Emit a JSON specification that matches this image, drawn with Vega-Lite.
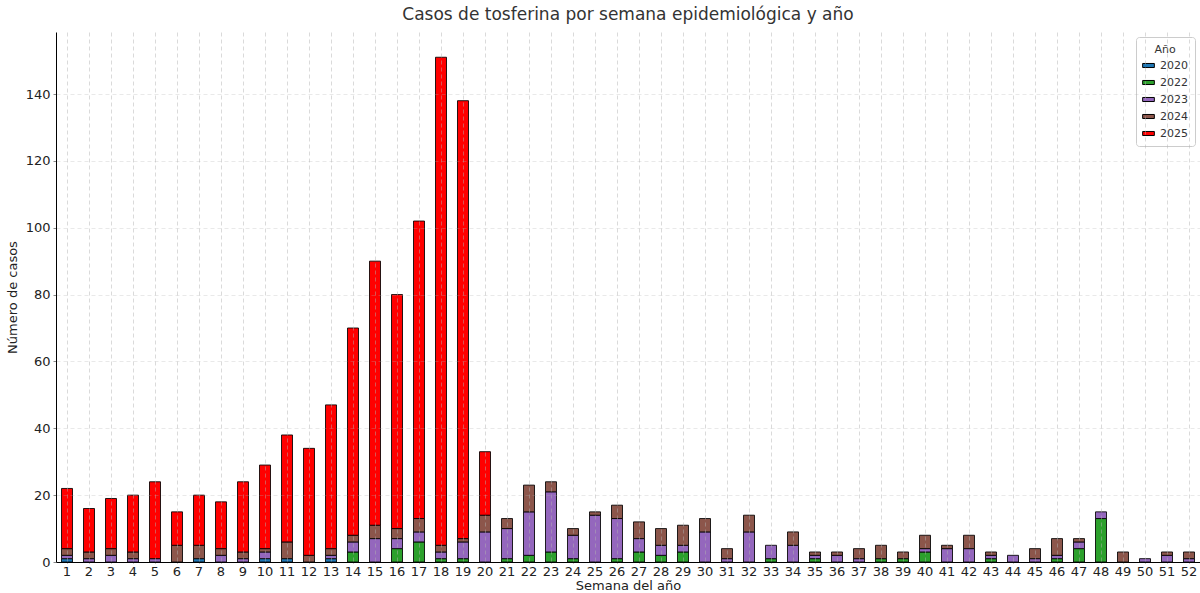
{
  "$schema": "https://vega.github.io/schema/vega-lite/v6.json",
  "width": 1144,
  "height": 530,
  "autosize": "none",
  "padding": {"left": 56, "top": 32, "right": 0, "bottom": 31},
  "background": "white",
  "config": {
    "font": "DejaVu Sans",
    "view": {"stroke": null},
    "axis": {"labelFont": "DejaVu Sans", "titleFont": "DejaVu Sans", "labelFontSize": 12, "titleFontSize": 13, "titleFontWeight": "normal", "labelColor": "#222", "titleColor": "#222", "domainColor": "#000", "tickColor": "#888", "tickSize": 3}
  },
  "title": {"text": "Casos de tosferina por semana epidemiológica y año", "fontSize": 17, "fontWeight": "normal", "color": "#333", "font": "DejaVu Sans", "offset": 8, "anchor": "middle"},
  "data": {"values": [
    {"week":1,"year":"2020","cases":1},{"week":1,"year":"2023","cases":1},{"week":1,"year":"2024","cases":2},{"week":1,"year":"2025","cases":18},
    {"week":2,"year":"2023","cases":1},{"week":2,"year":"2024","cases":2},{"week":2,"year":"2025","cases":13},
    {"week":3,"year":"2023","cases":2},{"week":3,"year":"2024","cases":2},{"week":3,"year":"2025","cases":15},
    {"week":4,"year":"2023","cases":1},{"week":4,"year":"2024","cases":2},{"week":4,"year":"2025","cases":17},
    {"week":5,"year":"2023","cases":1},{"week":5,"year":"2025","cases":23},
    {"week":6,"year":"2024","cases":5},{"week":6,"year":"2025","cases":10},
    {"week":7,"year":"2020","cases":1},{"week":7,"year":"2024","cases":4},{"week":7,"year":"2025","cases":15},
    {"week":8,"year":"2023","cases":2},{"week":8,"year":"2024","cases":2},{"week":8,"year":"2025","cases":14},
    {"week":9,"year":"2023","cases":1},{"week":9,"year":"2024","cases":2},{"week":9,"year":"2025","cases":21},
    {"week":10,"year":"2020","cases":1},{"week":10,"year":"2023","cases":2},{"week":10,"year":"2024","cases":1},{"week":10,"year":"2025","cases":25},
    {"week":11,"year":"2020","cases":1},{"week":11,"year":"2024","cases":5},{"week":11,"year":"2025","cases":32},
    {"week":12,"year":"2024","cases":2},{"week":12,"year":"2025","cases":32},
    {"week":13,"year":"2020","cases":1},{"week":13,"year":"2023","cases":1},{"week":13,"year":"2024","cases":2},{"week":13,"year":"2025","cases":43},
    {"week":14,"year":"2022","cases":3},{"week":14,"year":"2023","cases":3},{"week":14,"year":"2024","cases":2},{"week":14,"year":"2025","cases":62},
    {"week":15,"year":"2023","cases":7},{"week":15,"year":"2024","cases":4},{"week":15,"year":"2025","cases":79},
    {"week":16,"year":"2022","cases":4},{"week":16,"year":"2023","cases":3},{"week":16,"year":"2024","cases":3},{"week":16,"year":"2025","cases":70},
    {"week":17,"year":"2022","cases":6},{"week":17,"year":"2023","cases":3},{"week":17,"year":"2024","cases":4},{"week":17,"year":"2025","cases":89},
    {"week":18,"year":"2022","cases":1},{"week":18,"year":"2023","cases":2},{"week":18,"year":"2024","cases":2},{"week":18,"year":"2025","cases":146},
    {"week":19,"year":"2022","cases":1},{"week":19,"year":"2023","cases":5},{"week":19,"year":"2024","cases":1},{"week":19,"year":"2025","cases":131},
    {"week":20,"year":"2023","cases":9},{"week":20,"year":"2024","cases":5},{"week":20,"year":"2025","cases":19},
    {"week":21,"year":"2022","cases":1},{"week":21,"year":"2023","cases":9},{"week":21,"year":"2024","cases":3},
    {"week":22,"year":"2022","cases":2},{"week":22,"year":"2023","cases":13},{"week":22,"year":"2024","cases":8},
    {"week":23,"year":"2022","cases":3},{"week":23,"year":"2023","cases":18},{"week":23,"year":"2024","cases":3},
    {"week":24,"year":"2022","cases":1},{"week":24,"year":"2023","cases":7},{"week":24,"year":"2024","cases":2},
    {"week":25,"year":"2023","cases":14},{"week":25,"year":"2024","cases":1},
    {"week":26,"year":"2022","cases":1},{"week":26,"year":"2023","cases":12},{"week":26,"year":"2024","cases":4},
    {"week":27,"year":"2022","cases":3},{"week":27,"year":"2023","cases":4},{"week":27,"year":"2024","cases":5},
    {"week":28,"year":"2022","cases":2},{"week":28,"year":"2023","cases":3},{"week":28,"year":"2024","cases":5},
    {"week":29,"year":"2022","cases":3},{"week":29,"year":"2023","cases":2},{"week":29,"year":"2024","cases":6},
    {"week":30,"year":"2023","cases":9},{"week":30,"year":"2024","cases":4},
    {"week":31,"year":"2023","cases":1},{"week":31,"year":"2024","cases":3},
    {"week":32,"year":"2023","cases":9},{"week":32,"year":"2024","cases":5},
    {"week":33,"year":"2022","cases":1},{"week":33,"year":"2023","cases":4},
    {"week":34,"year":"2023","cases":5},{"week":34,"year":"2024","cases":4},
    {"week":35,"year":"2022","cases":1},{"week":35,"year":"2023","cases":1},{"week":35,"year":"2024","cases":1},
    {"week":36,"year":"2023","cases":2},{"week":36,"year":"2024","cases":1},
    {"week":37,"year":"2023","cases":1},{"week":37,"year":"2024","cases":3},
    {"week":38,"year":"2022","cases":1},{"week":38,"year":"2024","cases":4},
    {"week":39,"year":"2022","cases":1},{"week":39,"year":"2024","cases":2},
    {"week":40,"year":"2022","cases":3},{"week":40,"year":"2023","cases":1},{"week":40,"year":"2024","cases":4},
    {"week":41,"year":"2023","cases":4},{"week":41,"year":"2024","cases":1},
    {"week":42,"year":"2023","cases":4},{"week":42,"year":"2024","cases":4},
    {"week":43,"year":"2022","cases":1},{"week":43,"year":"2023","cases":1},{"week":43,"year":"2024","cases":1},
    {"week":44,"year":"2023","cases":2},
    {"week":45,"year":"2023","cases":1},{"week":45,"year":"2024","cases":3},
    {"week":46,"year":"2022","cases":1},{"week":46,"year":"2023","cases":1},{"week":46,"year":"2024","cases":5},
    {"week":47,"year":"2022","cases":4},{"week":47,"year":"2023","cases":2},{"week":47,"year":"2024","cases":1},
    {"week":48,"year":"2022","cases":13},{"week":48,"year":"2023","cases":2},
    {"week":49,"year":"2024","cases":3},
    {"week":50,"year":"2023","cases":1},
    {"week":51,"year":"2023","cases":2},{"week":51,"year":"2024","cases":1},
    {"week":52,"year":"2023","cases":1},{"week":52,"year":"2024","cases":2}
  ]},
  "mark": {"type": "bar", "stroke": "#000", "strokeWidth": 1, "strokeOpacity": 0.85},
  "encoding": {
    "x": {
      "field": "week", "type": "ordinal", "title": "Semana del año",
      "scale": {"paddingInner": 0.5, "paddingOuter": 0.25},
      "axis": {"labelAngle": 0, "grid": true, "gridDash": [4, 3], "gridColor": "#b0b0b0", "gridOpacity": 0.6, "gridWidth": 0.8, "bandPosition": 0.5, "zindex": 1, "tickSize": 1, "titlePadding": 1, "labelPadding": 2, "labelFontSize": 13}
    },
    "y": {
      "field": "cases", "type": "quantitative", "aggregate": "sum", "title": "Número de casos", "stack": "zero",
      "scale": {"domain": [0, 158.55], "nice": false},
      "axis": {"values": [0, 20, 40, 60, 80, 100, 120, 140], "grid": true, "gridDash": [4, 3], "gridColor": "#b0b0b0", "gridOpacity": 0.35, "gridWidth": 0.8, "zindex": 1, "titlePadding": 6, "labelPadding": 3, "labelFontSize": 13}
    },
    "color": {
      "field": "year", "type": "nominal", "title": "Año",
      "scale": {"domain": ["2020", "2022", "2023", "2024", "2025"], "range": ["#1f77b4", "#2ca02c", "#9467bd", "#8c564b", "#ff0000"]},
      "legend": {"orient": "top-right", "offset": 5, "padding": 7, "fillColor": "white", "strokeColor": "#cccccc", "cornerRadius": 3, "titleFontSize": 11, "titleFontWeight": "normal", "titleAnchor": "middle", "titleColor": "#333", "labelFontSize": 11, "labelColor": "#333", "symbolType": "M-1.3,-0.45H1.3V0.45H-1.3Z", "symbolSize": 81, "symbolStrokeColor": "#000", "symbolStrokeWidth": 1, "rowPadding": 5, "labelOffset": 6}
    },
    "order": {"field": "year", "type": "nominal", "sort": "ascending"}
  }
}
